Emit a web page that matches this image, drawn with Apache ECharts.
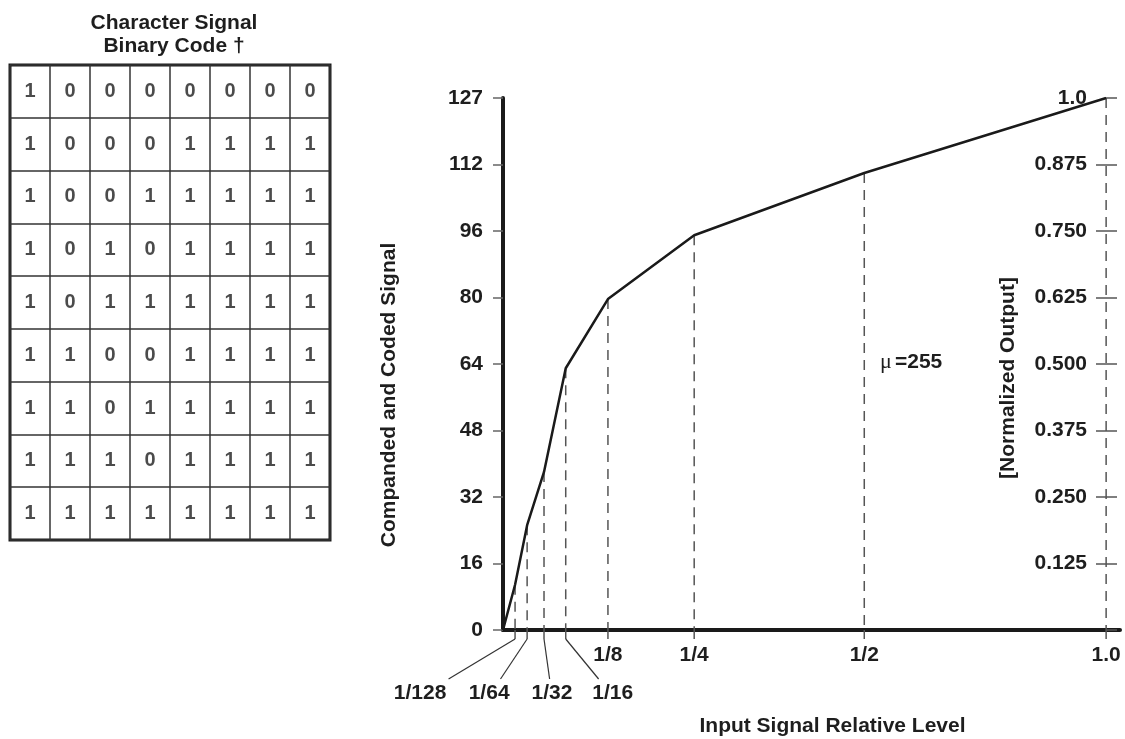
<!DOCTYPE html>
<html>
<head>
<meta charset="utf-8">
<script src="https://cdn.jsdelivr.net/npm/echarts@6/dist/echarts.min.js"></script>
<style>
  html, body { margin: 0; background: #fff; }
  #chart { width: 1125px; height: 739px; }
</style>
</head>
<body>
<div id="chart"></div>
<script>
// input levels on the bottom axis, and where each one sits on the drawn (schematic) axis
var levelLabels = ['1/128', '1/64', '1/32', '1/16', '1/8', '1/4', '1/2', '1.0'];
var levelPos = [0.020, 0.040, 0.068, 0.104, 0.174, 0.317, 0.599, 1.0];
// normalized output at each level
var outputValues = [0.085, 0.197, 0.297, 0.492, 0.622, 0.742, 0.859, 1.0];

// tick labels, left (code) and right (normalized)
var codeTicks = ['0', '16', '32', '48', '64', '80', '96', '112', '127'];
var normTicks = ['', '0.125', '0.250', '0.375', '0.500', '0.625', '0.750', '0.875', '1.0'];

// character signal binary code table
var bitCols = ['1', '2', '3', '4', '5', '6', '7', '8'];
var codeRows = ['10000000', '10001111', '10011111', '10101111', '10111111',
                '11001111', '11011111', '11101111', '11111111'];

var FONT = '"Liberation Sans", Arial, sans-serif';
var INK = '#1e1e1e';

// horizontal shift of the crowded small-level labels (layout only)
var labelDx = [-95, -38, 8, 47, 0, 0, 0, 0];

var curve = [[0, 0]];
var drops = [];
for (var i = 0; i < levelPos.length; i++) {
  curve.push([levelPos[i], outputValues[i]]);
  drops.push([levelPos[i], outputValues[i]]);
}

var cells = [];
for (var r = 0; r < codeRows.length; r++) {
  for (var c = 0; c < bitCols.length; c++) {
    cells.push([c, r, codeRows[r].charAt(c)]);
  }
}

var chart = echarts.init(document.getElementById('chart'), null, { renderer: 'canvas' });

var option = {
  animation: false,
  backgroundColor: '#fff',
  title: {
    text: 'Character Signal\nBinary Code †',
    left: 169,
    top: 7,
    textAlign: 'center',
    textStyle: { fontFamily: FONT, fontSize: 21, fontWeight: 'bold', color: INK, lineHeight: 23 }
  },
  grid: [
    { left: 503, right: 5, top: 98, bottom: 109, outerBoundsMode: 'none', containLabel: false },
    { left: 10, top: 65, width: 320, height: 475, outerBoundsMode: 'none',
      show: true, borderColor: '#1a1a1a', borderWidth: 3, backgroundColor: 'transparent' }
  ],
  xAxis: [
    {
      type: 'value', gridIndex: 0, min: 0, max: 1.023,
      axisLine: { show: true, onZero: false, lineStyle: { color: '#1a1a1a', width: 4 } },
      axisTick: { show: false },
      axisLabel: { show: false },
      splitLine: { show: false },
      name: 'Input Signal Relative Level',
      nameLocation: 'middle',
      nameGap: 86,
      nameTextStyle: { fontFamily: FONT, fontSize: 21, fontWeight: 'bold', color: INK, padding: [0, 0, 0, 42] }
    },
    {
      type: 'category', gridIndex: 1, data: bitCols,
      axisLine: { show: false }, axisTick: { show: false }, axisLabel: { show: false },
      splitLine: { show: true, lineStyle: { color: '#333', width: 1.5 } }
    }
  ],
  yAxis: [
    {
      type: 'value', gridIndex: 0, min: 0, max: 1, interval: 0.125,
      axisLine: { show: true, lineStyle: { color: '#1a1a1a', width: 4 } },
      axisTick: { show: true, length: 10, lineStyle: { color: '#666', width: 1.5 } },
      axisLabel: {
        margin: 20, fontFamily: FONT, fontSize: 21, fontWeight: 'bold', color: INK,
        formatter: function (v) { return codeTicks[Math.round(v / 0.125)]; }
      },
      splitLine: { show: false },
      name: 'Companded and Coded Signal',
      nameLocation: 'middle',
      nameGap: 103,
      nameRotate: 90,
      nameTextStyle: { fontFamily: FONT, fontSize: 21, fontWeight: 'bold', color: INK, padding: [0, 62, 0, 0] }
    },
    {
      type: 'value', gridIndex: 0, position: 'right', offset: -14, min: 0, max: 1, interval: 0.125,
      axisLine: { show: false },
      axisTick: { show: true, length: 11, lineStyle: { color: '#555', width: 1.5 } },
      axisLabel: {
        inside: true, margin: 19, fontFamily: FONT, fontSize: 21, fontWeight: 'bold', color: INK,
        formatter: function (v) { return normTicks[Math.round(v / 0.125)]; }
      },
      splitLine: { show: false },
      name: '[Normalized Output]',
      nameLocation: 'middle',
      nameGap: -108,
      nameRotate: 90,
      nameTextStyle: { fontFamily: FONT, fontSize: 21, fontWeight: 'bold', color: INK, padding: [0, 28, 0, 0] }
    },
    {
      type: 'value', gridIndex: 0, position: 'right', offset: -14, min: 0, max: 1, interval: 0.125,
      axisLine: { show: false },
      axisTick: {
        show: true, inside: true, length: 10, lineStyle: { color: '#555', width: 1.5 },
        customValues: [0.125, 0.25, 0.375, 0.5, 0.625, 0.75, 0.875]
      },
      axisLabel: { show: false },
      splitLine: { show: false }
    },
    {
      type: 'category', gridIndex: 1, data: codeRows, inverse: true,
      axisLine: { show: false }, axisTick: { show: false }, axisLabel: { show: false },
      splitLine: { show: true, lineStyle: { color: '#333', width: 1.5 } }
    }
  ],
  graphic: [
    { type: 'text', x: 880, y: 362, style: { text: 'μ', font: '22px "Liberation Serif", serif', fill: INK, verticalAlign: 'middle' } },
    { type: 'text', x: 895, y: 362, style: { text: '=255', font: 'bold 21px ' + FONT, fill: INK, verticalAlign: 'middle' } }
  ],
  series: [
    {
      // dashed drop lines, ticks and the level labels under the axis
      type: 'custom',
      xAxisIndex: 0, yAxisIndex: 0,
      data: drops,
      silent: true,
      renderItem: function (params, api) {
        var i = params.dataIndex;
        var top = api.coord([api.value(0), api.value(1)]);
        var base = api.coord([api.value(0), 0]);
        var children = [
          { type: 'line', shape: { x1: top[0], y1: top[1], x2: base[0], y2: base[1] },
            style: { stroke: '#555', lineWidth: 1.5, lineDash: [10, 7] } },
          { type: 'line', shape: { x1: base[0], y1: base[1], x2: base[0], y2: base[1] + 9 },
            style: { stroke: '#555', lineWidth: 1.5 } }
        ];
        var dx = labelDx[i];
        var lx = base[0] + dx;
        var ly;
        if (i < 4) {
          ly = base[1] + 63;
          children.push({ type: 'line',
            shape: { x1: base[0], y1: base[1] + 9, x2: lx - dx * 0.3, y2: base[1] + 49 },
            style: { stroke: '#333', lineWidth: 1.2 } });
        } else {
          ly = base[1] + 25;
        }
        children.push({ type: 'text', x: lx, y: ly,
          style: { text: levelLabels[i], font: 'bold 21px ' + FONT, fill: INK, align: 'center', verticalAlign: 'middle' } });
        return { type: 'group', children: children };
      },
      z: 1
    },
    {
      type: 'line',
      xAxisIndex: 0, yAxisIndex: 0,
      data: curve,
      symbol: 'none',
      lineStyle: { color: '#1a1a1a', width: 2.5 },
      z: 3
    },
    {
      type: 'scatter',
      xAxisIndex: 1, yAxisIndex: 3,
      data: cells,
      symbolSize: 1,
      itemStyle: { color: 'transparent' },
      silent: true,
      label: {
        show: true, position: 'inside',
        fontFamily: FONT, fontSize: 20, fontWeight: 'bold', color: INK,
        formatter: function (p) { return p.value[2]; }
      }
    }
  ]
};

chart.setOption(option);
</script>
</body>
</html>
